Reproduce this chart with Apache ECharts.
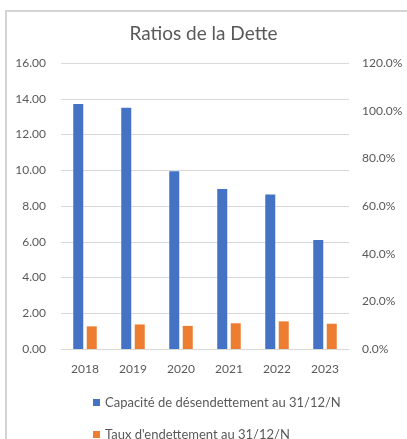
<!DOCTYPE html>
<html>
<head>
<meta charset="utf-8">
<script src="https://cdn.jsdelivr.net/npm/echarts@6/dist/echarts.min.js"></script>
<style>
  html, body { margin: 0; padding: 0; background: #fff; }
  #chart { width: 407px; height: 439px; }
</style>
</head>
<body>
<div id="chart"></div>
<script>
  // données
  const years = ['2018', '2019', '2020', '2021', '2022', '2023']
  const capacite = [13.7, 13.5, 9.95, 8.95, 8.65, 6.1]
  const taux = [0.095, 0.103, 0.097, 0.108, 0.116, 0.106]
  const names = ['Capacité de désendettement au 31/12/N', "Taux d'endettement au 31/12/N"]

  const textColor = '#595959'
  const font = 'Lato, "Open Sans", sans-serif'

  const legendItem = (name, top) => ({
    left: 88,
    top: top,
    itemWidth: 7,
    itemHeight: 7,
    icon: 'rect',
    textStyle: { color: textColor, fontSize: 13, fontFamily: font },
    data: [name]
  })

  const chart = echarts.init(document.getElementById('chart'))
  const option = {
    animation: false,
    textStyle: { fontFamily: font },
    title: {
      text: 'Ratios de la Dette',
      left: 'center',
      top: 19,
      textStyle: { color: textColor, fontSize: 19, fontWeight: 'normal', fontFamily: font }
    },
    graphic: [
      {
        type: 'rect',
        shape: { x: 6, y: 11, width: 440, height: 460 },
        style: { fill: 'none', stroke: '#d4d4d4', lineWidth: 2 }
      }
    ],
    legend: [legendItem(names[0], 391), legendItem(names[1], 423)],
    grid: { left: 61, right: 58, top: 63, bottom: 90 },
    xAxis: {
      type: 'category',
      data: years,
      axisLine: { lineStyle: { color: '#d9d9d9' } },
      axisTick: { show: false },
      axisLabel: { color: textColor, fontSize: 12, margin: 14 }
    },
    yAxis: [
      {
        type: 'value',
        min: 0,
        max: 16,
        interval: 2,
        axisLabel: {
          color: textColor, fontSize: 12, margin: 15,
          formatter: v => v.toFixed(2)
        },
        splitLine: { lineStyle: { color: '#d9d9d9' } }
      },
      {
        type: 'value',
        min: 0,
        max: 1.2,
        interval: 0.2,
        axisLabel: {
          color: textColor, fontSize: 12, margin: 13,
          formatter: v => (v * 100).toFixed(1) + '%'
        },
        splitLine: { show: false }
      }
    ],
    series: [
      {
        name: names[0],
        type: 'bar',
        data: capacite,
        barWidth: 10,
        barGap: '35%',
        itemStyle: { color: '#4472C4' }
      },
      {
        name: names[1],
        type: 'bar',
        yAxisIndex: 1,
        data: taux,
        barWidth: 10,
        itemStyle: { color: '#ED7D31' }
      }
    ]
  }
  chart.setOption(option)
</script>
</body>
</html>
